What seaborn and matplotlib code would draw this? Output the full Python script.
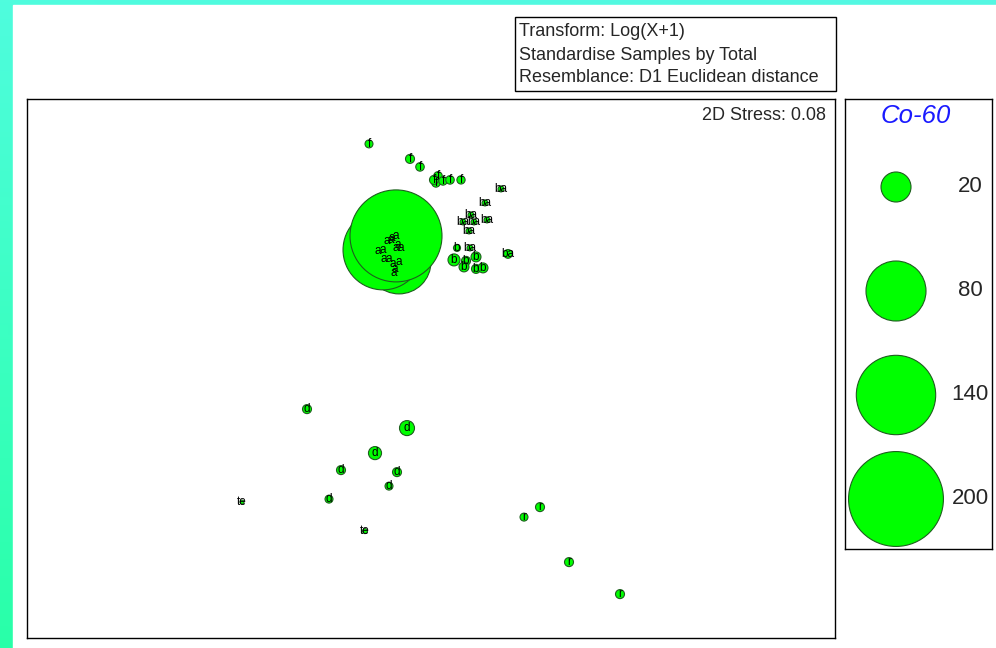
import numpy as np
import pandas as pd
import matplotlib
matplotlib.use("Agg")
import matplotlib.pyplot as plt
from matplotlib.patches import Rectangle
import seaborn as sns

sns.set_theme(style="white")
plt.rcParams['font.family'] = ['Liberation Sans', 'DejaVu Sans']

# ---- nMDS ordination of samples (Co-60 activity as bubble size) ----
groups = (["f"] * 9 + ["ba"] * 9 + ["b"] * 7 + ["a"] * 15 +
          ["d"] * 7 + ["te"] * 2 + ["r"] * 4)

mds1 = [-0.310, -0.105, -0.055, 0.015, 0.035, 0.025, 0.060, 0.095, 0.150,
        0.350, 0.270, 0.200, 0.160, 0.215, 0.280, 0.190, 0.195, 0.385,
        0.130, 0.115, 0.175, 0.225, 0.165, 0.225, 0.260,
        -0.220, -0.195, -0.175, -0.165, -0.150, -0.175, -0.265, -0.240,
        -0.235, -0.210, -0.190, -0.160, -0.180, -0.185, -0.200,
        -0.620, -0.120, -0.280, -0.450, -0.170, -0.210, -0.510,
        -0.945, -0.330,
        0.545, 0.465, 0.690, 0.945]

mds2 = [1.123, 1.048, 1.008, 0.943, 0.963, 0.928, 0.938, 0.943, 0.943,
        0.898, 0.828, 0.768, 0.733, 0.733, 0.743, 0.688, 0.603, 0.573,
        0.603, 0.543, 0.538, 0.558, 0.508, 0.498, 0.503,
        0.638, 0.653, 0.663, 0.618, 0.603, 0.603, 0.588, 0.593,
        0.548, 0.548, 0.523, 0.533, 0.498, 0.478, 0.643,
        -0.203, -0.298, -0.423, -0.508, -0.518, -0.588, -0.653,
        -0.668, -0.813,
        -0.693, -0.743, -0.968, -1.128]

co60 = [1.4, 1.8, 1.6, 1.8, 1.6, 1.6, 1.6, 1.6, 1.5,
        0.8, 0.8, 0.8, 0.8, 0.8, 0.8, 0.8, 0.8, 1.7,
        1.1, 3.2, 1.8, 2.2, 2.2, 1.8, 2.2,
        1.5, 1.5, 188, 1.5, 1.5, 1.5, 1.5, 142,
        1.5, 1.5, 1.5, 91, 1.5, 1.5, 1.5,
        1.8, 5.0, 3.8, 1.8, 1.8, 1.4, 1.4,
        0.36, 0.55,
        1.8, 1.4, 1.8, 1.8]

legend_values = [20, 80, 140, 200]
legend_title = "Co-60"
stress_label = "2D Stress: 0.08"
info_lines = ["Transform: Log(X+1)",
              "Standardise Samples by Total",
              "Resemblance: D1 Euclidean distance"]

# ---- layout helpers (pixel -> figure fraction) ----
W, H = 996, 648
def fx(px):
    return px / W
def fy(py):
    return 1 - py / H

# bubble area proportional to value
AREA_PER_UNIT = 23.33
SIZE_MAX = 200
fill = "#00ff00"
edge = "#1e5e1e"

fig = plt.figure(figsize=(W / 100, H / 100), dpi=100)

# page background: teal gradient frame with white sheet
bg = fig.add_axes([0, 0, 1, 1], zorder=-10)
t = np.linspace(0, 1, 256)[:, None]
s = np.linspace(0, 1, 64)[None, :]
top = np.array([0.32, 0.98, 0.88])
bot = np.array([0.17, 1.00, 0.67])
grad = top[None, None, :] * (1 - t[..., None]) + bot[None, None, :] * t[..., None]
grad = grad + 0.02 * (s[..., None] - 0.5) * np.array([1, -1, 1])
bg.imshow(np.clip(grad, 0, 1), extent=[0, 1, 0, 1], aspect="auto")
bg.add_patch(Rectangle((13 / W, 0), 1, 1 - 5 / H, color="white",
                       transform=bg.transAxes))
bg.set_xlim(0, 1)
bg.set_ylim(0, 1)
bg.axis("off")

# ---- main ordination panel ----
df = pd.DataFrame({"group": groups, "MDS1": mds1, "MDS2": mds2, "Co60": co60})
df = df.sort_values("Co60", kind="stable")

ax = fig.add_axes([fx(27), fy(638), fx(835) - fx(27), fy(99) - fy(638)])
sns.scatterplot(data=df, x="MDS1", y="MDS2", size="Co60",
                sizes=(0, AREA_PER_UNIT * SIZE_MAX), size_norm=(0, SIZE_MAX),
                color=fill, edgecolor=edge, linewidth=0.8, alpha=1,
                legend=False, ax=ax)
for _, row in df.iterrows():
    ax.text(row.MDS1, row.MDS2, row.group, ha="center", va="center",
            fontsize=8.5, color="black", zorder=5)
ax.set_xlim(-2.02, 2.02)
ax.set_ylim(-1.3475, 1.3475)
ax.set_xticks([])
ax.set_yticks([])
ax.set_xlabel("")
ax.set_ylabel("")
for sp in ax.spines.values():
    sp.set_visible(True)
    sp.set_color("black")
    sp.set_linewidth(1.0)

fig.text(fx(826), fy(116), stress_label, ha="right", va="center", fontsize=13)

# ---- info box ----
fig.patches.append(Rectangle((fx(515), fy(91)), fx(836) - fx(515), fy(17) - fy(91),
                             transform=fig.transFigure, fill=False,
                             edgecolor="black", linewidth=1.0))
for i, line in enumerate(info_lines):
    fig.text(fx(519), fy(32 + 23 * i), line, ha="left", va="center", fontsize=13)

# ---- bubble size key ----
lax = fig.add_axes([fx(845), fy(549), fx(992) - fx(845), fy(99) - fy(549)])
lax.set_xlim(0, 147)
lax.set_ylim(450, 0)
key_y = 88 + 104 * np.arange(len(legend_values))
sns.scatterplot(x=[51] * len(legend_values), y=key_y, size=legend_values,
                sizes=(0, AREA_PER_UNIT * SIZE_MAX), size_norm=(0, SIZE_MAX),
                color=fill, edgecolor=edge, linewidth=0.8, alpha=1,
                legend=False, ax=lax)
for v, yy in zip(legend_values, key_y):
    lax.text(125, yy, str(v), ha="center", va="center", fontsize=16)
lax.text(71, 17, legend_title, ha="center", va="center", fontsize=18.5,
         style="italic", color="#1a1aff")
lax.set_xlim(0, 147)
lax.set_ylim(450, 0)
lax.set_xticks([])
lax.set_yticks([])
for sp in lax.spines.values():
    sp.set_visible(True)
    sp.set_color("black")
    sp.set_linewidth(1.0)

fig.savefig("out.png", dpi=100)
